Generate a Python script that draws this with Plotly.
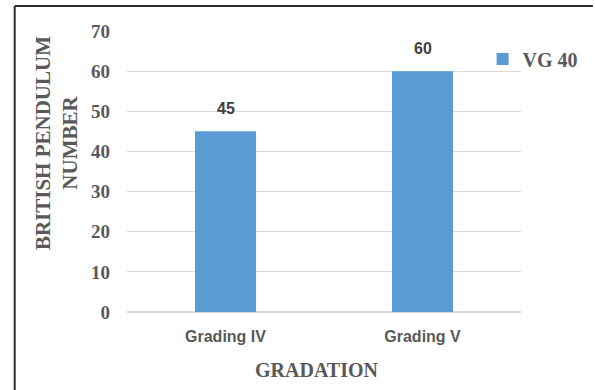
import plotly.graph_objects as go

# Data
categories = ["Grading IV", "Grading V"]
bpn_values = [45, 60]
series_name = "VG 40"
y_ticks = [0, 10, 20, 30, 40, 50, 60, 70]

BAR_COLOR = "#5B9BD5"
SERIF = "Liberation Serif, Times New Roman, serif"
SANS = "Liberation Sans, Arial, sans-serif"

# plot area in pixels (595 x 390 canvas)
L, R, T, B = 127, 527, 31, 312
W, H = 595, 390


def px_x(p):
    return (p - L) / (R - L)


def px_y(p):
    return (B - p) / (B - T)


fig = go.Figure()
fig.add_trace(go.Bar(
    x=categories,
    y=bpn_values,
    name=f"<b>{series_name}</b>",
    marker=dict(color=BAR_COLOR, line=dict(width=0)),
    width=0.31,
    showlegend=True,
))

annotations = []
# value labels above bars
for c, v in zip(categories, bpn_values):
    annotations.append(dict(
        x=c, y=v, xref="x", yref="y", text=f"<b>{v}</b>",
        showarrow=False, yanchor="bottom", yshift=12,
        font=dict(family=SANS, size=16, color="#404040"),
    ))

# axis titles
annotations.append(dict(
    x=px_x(55), y=px_y(143), xref="paper", yref="paper",
    text="<b>BRITISH PENDULUM<br>NUMBER</b>", textangle=-90,
    showarrow=False, xanchor="center", yanchor="middle",
    font=dict(family=SERIF, size=21, color="#595959"),
))
annotations.append(dict(
    x=px_x(320), y=px_y(370), xref="paper", yref="paper",
    text="<b>GRADATION</b>", showarrow=False,
    xanchor="center", yanchor="middle",
    font=dict(family=SERIF, size=20, color="#595959"),
))

# chart frame (top and left edges)
shapes = [
    dict(type="line", xref="paper", yref="paper",
         x0=px_x(13), x1=px_x(600), y0=px_y(6), y1=px_y(6),
         line=dict(color="#2b2b2b", width=2)),
    dict(type="line", xref="paper", yref="paper",
         x0=px_x(13), x1=px_x(13), y0=px_y(6), y1=px_y(400),
         line=dict(color="#2b2b2b", width=2)),
]

fig.update_layout(
    width=W, height=H,
    margin=dict(l=L, r=W - R, t=T, b=H - B, pad=0),
    paper_bgcolor="white", plot_bgcolor="white",
    bargap=0.69,
    annotations=annotations,
    shapes=shapes,
    legend=dict(
        x=px_x(488), y=px_y(59), xanchor="left", yanchor="middle",
        font=dict(family=SERIF, size=20, color="#595959"),
        bgcolor="rgba(0,0,0,0)", itemwidth=30,
    ),
    xaxis=dict(
        showgrid=False, showline=True, linecolor="#d9d9d9", linewidth=1,
        ticks="", ticklabelstandoff=10,
        tickfont=dict(family=SANS, size=16, color="#595959"),
        ticktext=[f"<b>{c}</b>" for c in categories], tickvals=categories,
    ),
    yaxis=dict(
        range=[0, 70], tickvals=y_ticks,
        ticktext=[f"<b>{t}</b>" for t in y_ticks],
        showgrid=True, gridcolor="#d9d9d9", gridwidth=1,
        zeroline=True, zerolinecolor="#d9d9d9",
        ticks="", ticklabelstandoff=16,
        tickfont=dict(family=SERIF, size=19, color="#595959"),
    ),
)

fig.write_html("out.html")
